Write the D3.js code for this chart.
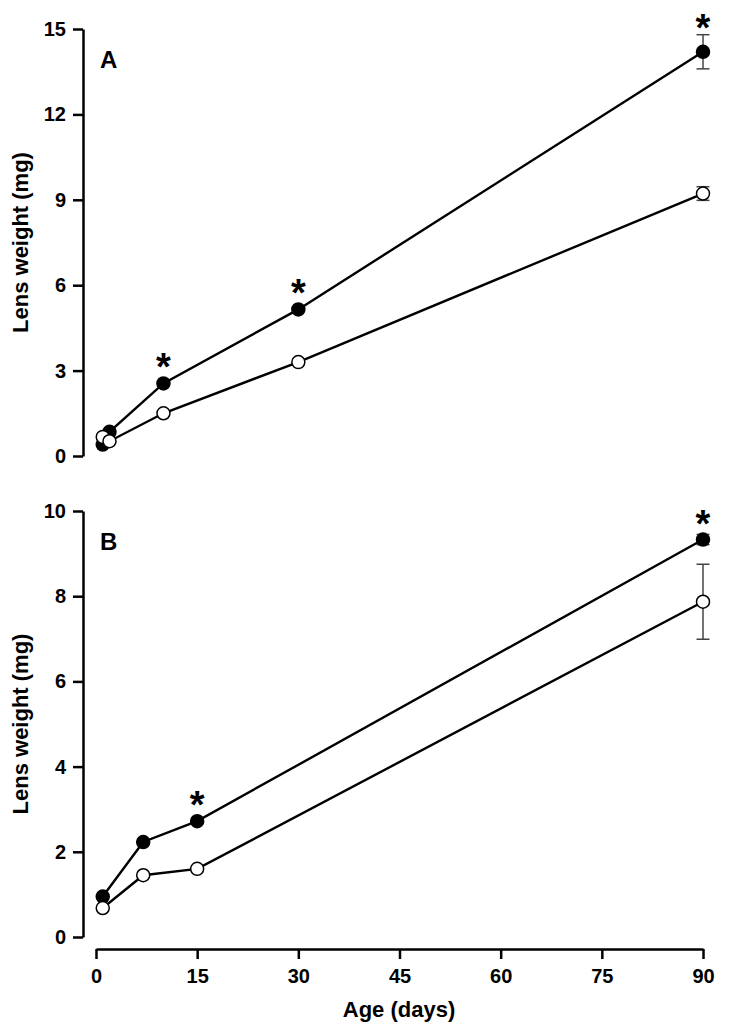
<!DOCTYPE html>
<html>
<head>
<meta charset="utf-8">
<script src="https://cdn.jsdelivr.net/npm/d3@7"></script>
<style>
  body { margin: 0; background: #fff; }
  text { font-family: "Liberation Sans", Arial, sans-serif; font-weight: bold; }
</style>
</head>
<body>
<div id="chart"></div>
<script>
// panel A
var daysA = [1, 2, 10, 30, 90];
var filledA = [0.4, 0.85, 2.55, 5.15, 14.2];
var filledErrA = [0, 0, 0, 0, 0.6];
var openA = [0.67, 0.52, 1.5, 3.3, 9.22];
var openErrA = [0, 0, 0, 0, 0.24];
var starsA = [10, 30, 90];
var yTicksA = [0, 3, 6, 9, 12, 15];

// panel B
var daysB = [1, 7, 15, 90];
var filledB = [0.95, 2.23, 2.72, 9.33];
var filledErrB = [0, 0, 0, 0.12];
var openB = [0.68, 1.45, 1.6, 7.87];
var openErrB = [0, 0, 0, 0.88];
var starsB = [15, 90];
var yTicksB = [0, 2, 4, 6, 8, 10];

var xTicks = [0, 15, 30, 45, 60, 75, 90];

var width = 729, height = 1030;
var svg = d3.select("#chart").append("svg")
    .attr("width", width)
    .attr("height", height);

var x = d3.scaleLinear().domain([0, 90]).range([96, 703]);
var axisX = 83;

function panel(label, yMax, yTicks, top, bottom, days, filled, filledErr, open, openErr, stars) {
    var y = d3.scaleLinear().domain([0, yMax]).range([bottom, top]);
    var g = svg.append("g");

    var yAxis = g.append("g")
        .attr("transform", "translate(" + axisX + ",0)")
        .call(d3.axisLeft(y).tickValues(yTicks).tickSize(10).tickSizeOuter(0).tickPadding(7));
    yAxis.select(".domain").attr("stroke", "#000").attr("stroke-width", 2.5);
    yAxis.selectAll(".tick line").attr("stroke", "#000").attr("stroke-width", 2.5);
    yAxis.selectAll(".tick text").attr("fill", "#000").style("font-size", "20px");

    g.append("text")
        .attr("transform", "translate(28," + ((top + bottom) / 2) + ") rotate(-90)")
        .attr("text-anchor", "middle")
        .style("font-size", "22px")
        .text("Lens weight (mg)");

    g.append("text")
        .attr("x", 100)
        .attr("y", top + 39)
        .style("font-size", "24px")
        .text(label);

    var line = d3.line()
        .x(function (d) { return x(d[0]); })
        .y(function (d) { return y(d[1]); });

    var series = [
        {vals: filled, err: filledErr, fill: "#000"},
        {vals: open, err: openErr, fill: "#fff"}
    ];

    // lines
    series.forEach(function (s) {
        g.append("path")
            .datum(days.map(function (d, i) { return [d, s.vals[i]]; }))
            .attr("fill", "none")
            .attr("stroke", "#000")
            .attr("stroke-width", 2.4)
            .attr("d", line);
    });

    // error bars
    series.forEach(function (s) {
        days.forEach(function (d, i) {
            if (!s.err[i]) return;
            var cx = x(d), y1 = y(s.vals[i] + s.err[i]), y2 = y(s.vals[i] - s.err[i]);
            g.append("line").attr("x1", cx).attr("x2", cx).attr("y1", y1).attr("y2", y2)
                .attr("stroke", "#444").attr("stroke-width", 1.5);
            [y1, y2].forEach(function (yy) {
                g.append("line").attr("x1", cx - 6.5).attr("x2", cx + 6.5).attr("y1", yy).attr("y2", yy)
                    .attr("stroke", "#444").attr("stroke-width", 1.5);
            });
        });
    });

    // markers
    series.forEach(function (s) {
        g.selectAll(null)
            .data(days.map(function (d, i) { return [d, s.vals[i]]; }))
            .enter()
            .append("circle")
            .attr("cx", function (d) { return x(d[0]); })
            .attr("cy", function (d) { return y(d[1]); })
            .attr("r", 6.5)
            .attr("fill", s.fill)
            .attr("stroke", "#000")
            .attr("stroke-width", 1.5);
    });

    // significance stars
    stars.forEach(function (d) {
        var i = days.indexOf(d);
        var v = filled[i], e = filledErr[i];
        var cy = Math.min(y(v) - 21, y(v + e) - 12);
        g.append("text")
            .attr("x", x(d))
            .attr("y", cy + 18)
            .attr("text-anchor", "middle")
            .style("font-size", "38px")
            .text("*");
    });

    return y;
}

panel("A", 15, yTicksA, 29, 456, daysA, filledA, filledErrA, openA, openErrA, starsA);
panel("B", 10, yTicksB, 511, 937, daysB, filledB, filledErrB, openB, openErrB, starsB);

// x axis (bottom panel only)
var xAxis = svg.append("g")
    .attr("transform", "translate(0,949)")
    .call(d3.axisBottom(x).tickValues(xTicks).tickSize(10).tickSizeOuter(0).tickPadding(10));
xAxis.select(".domain").attr("stroke", "#000").attr("stroke-width", 2.5);
xAxis.selectAll(".tick line").attr("stroke", "#000").attr("stroke-width", 2.5);
xAxis.selectAll(".tick text").attr("fill", "#000").style("font-size", "20px");

svg.append("text")
    .attr("x", 399)
    .attr("y", 1017)
    .attr("text-anchor", "middle")
    .style("font-size", "22px")
    .text("Age (days)");
</script>
</body>
</html>
